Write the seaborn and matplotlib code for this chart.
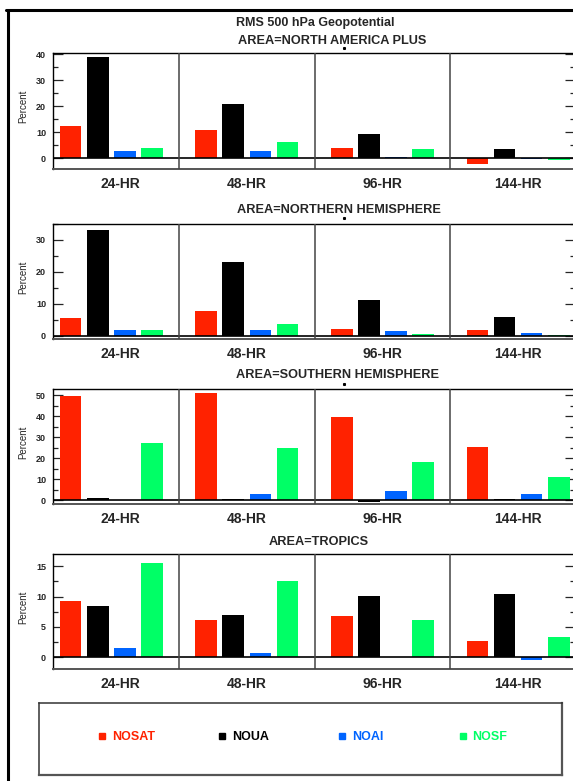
import numpy as np
import pandas as pd
import seaborn as sns
import matplotlib.pyplot as plt
from matplotlib.lines import Line2D
from matplotlib.ticker import MultipleLocator

sns.set_style('white')
plt.rcParams['font.family'] = ['Liberation Sans', 'DejaVu Sans']
plt.rcParams['font.weight'] = 'bold'

forecasts = ['24-HR', '48-HR', '96-HR', '144-HR']
experiments = ['NOSAT', 'NOUA', 'NOAI', 'NOSF']
colors = ['#ff2200', '#000000', '#0064ff', '#00ff66']
areas = ['NORTH AMERICA PLUS', 'NORTHERN HEMISPHERE',
         'SOUTHERN HEMISPHERE', 'TROPICS']

# percent values, rows = experiments (NOSAT, NOUA, NOAI, NOSF), cols = forecasts
na_plus = [[12.4, 10.9, 3.9, -2.1],
           [38.8, 20.9, 9.2, 3.6],
           [2.8, 2.8, 0.5, -0.4],
           [3.9, 6.4, 3.4, -0.8]]
north_hem = [[5.5, 7.8, 2.2, 2.0],
             [33.1, 23.0, 11.4, 6.0],
             [1.8, 2.0, 1.5, 0.9],
             [1.8, 3.9, 0.6, 0.3]]
south_hem = [[49.5, 51.0, 39.7, 25.2],
             [1.1, 0.8, -0.6, 0.5],
             [0.0, 3.2, 4.3, 2.9],
             [27.1, 24.9, 18.3, 11.1]]
tropics = [[9.3, 6.2, 6.8, 2.7],
           [8.5, 6.9, 10.1, 10.5],
           [1.5, 0.7, 0.0, -0.5],
           [15.5, 12.5, 6.1, 3.3]]

W, H = 573, 781


def px_box(left, top, right, bottom):
    return [left / W, 1 - bottom / H, (right - left) / W, (bottom - top) / H]


def to_frame(values):
    rows = []
    for e, exp in enumerate(experiments):
        for f, fc in enumerate(forecasts):
            rows.append({'Forecast': fc, 'Experiment': exp, 'Percent': values[e][f]})
    return pd.DataFrame(rows)


# layout: (data, top px, bottom px, ylim, major step, title x px, title y px, dot y px)
panels = [
    (na_plus, 52.7, 169.0, (-4.1, 40.6), 10, 332, 41, 47.7),
    (north_hem, 224.0, 339.0, (-0.94, 35.0), 10, 339, 210, 218),
    (south_hem, 389.3, 504.0, (-1.76, 52.9), 10, 338, 375, 384),
    (tropics, 554.3, 669.3, (-1.98, 16.97), 5, 319, 542, None),
]

fig = plt.figure(figsize=(W / 100, H / 100), dpi=100)

fig.text(315.5 / W, 1 - 23 / H, 'RMS 500 hPa Geopotential',
         ha='center', va='center', fontsize=9)

for (values, top, bottom, ylim, step, tx, ty, dy), area in zip(panels, areas):
    ax = fig.add_axes(px_box(53, top, 575, bottom))
    df = to_frame(values)
    sns.barplot(data=df, x='Forecast', y='Percent', hue='Experiment',
                order=forecasts, hue_order=experiments, palette=colors,
                saturation=1, errorbar=None, width=0.8, gap=0.2,
                linewidth=0, legend=False, ax=ax)
    ax.set_xlim(-0.43, 3.42)
    ax.set_ylim(*ylim)
    ax.axhline(0, color='black', lw=1.2, zorder=3)
    for xd in [0.5, 1.5, 2.5]:
        ax.axvline(xd, color='#444444', lw=1.1, zorder=3)

    for side in ['top', 'left', 'right']:
        ax.spines[side].set_color('black')
        ax.spines[side].set_linewidth(1.0)
    ax.spines['bottom'].set_color('#555555')
    ax.spines['bottom'].set_linewidth(1.4)

    ax.yaxis.set_major_locator(MultipleLocator(step))
    ax.yaxis.set_minor_locator(MultipleLocator(step / 2))
    ax.tick_params(axis='y', which='major', direction='in', length=7,
                   width=0.9, left=True, right=True, labelsize=6.5, pad=5)
    ax.tick_params(axis='y', which='minor', direction='in', length=3.5,
                   width=0.9, left=True, right=True)
    ax.set_xticks([0.07, 1, 2, 3])
    ax.set_xticklabels(forecasts)
    ax.tick_params(axis='x', length=0, labelsize=10, pad=5.5)
    ax.set_xlabel('')
    ax.set_ylabel('Percent', fontsize=7)
    ax.yaxis.set_label_coords(-0.047, 0.535)

    fig.text(tx / W, 1 - ty / H, 'AREA=' + area,
             ha='center', va='center', fontsize=9.2)
    if dy is not None:
        fig.add_artist(Line2D([344 / W], [1 - dy / H], marker='s', ms=1.2,
                              color='black', ls=''))

# legend box
lax = fig.add_axes(px_box(39.3, 702.7, 562.3, 774.7))
lax.set_xlim(-0.522, 3.83)
lax.set_ylim(0, 1)
lax.set_xticks([])
lax.set_yticks([])
for side in ['top', 'left']:
    lax.spines[side].set_color('#333333')
    lax.spines[side].set_linewidth(1.1)
for side in ['bottom', 'right']:
    lax.spines[side].set_color('#555555')
    lax.spines[side].set_linewidth(1.6)
for i, (name, c) in enumerate(zip(experiments, colors)):
    lax.plot(i, 0.537, marker='s', ms=4.3, color=c, ls='')
    lax.text(i + 0.083, 0.524, name, color=c, fontsize=9,
             ha='left', va='center')

# outer frame (left and top edges)
fig.add_artist(Line2D([7.5 / W, 7.5 / W], [0, 1 - 9.7 / H],
                      color='black', lw=2.2))
fig.add_artist(Line2D([6.4 / W, 1], [1 - 9.7 / H, 1 - 9.7 / H],
                      color='black', lw=2.2))

fig.savefig('out.png', dpi=100)
plt.close()
